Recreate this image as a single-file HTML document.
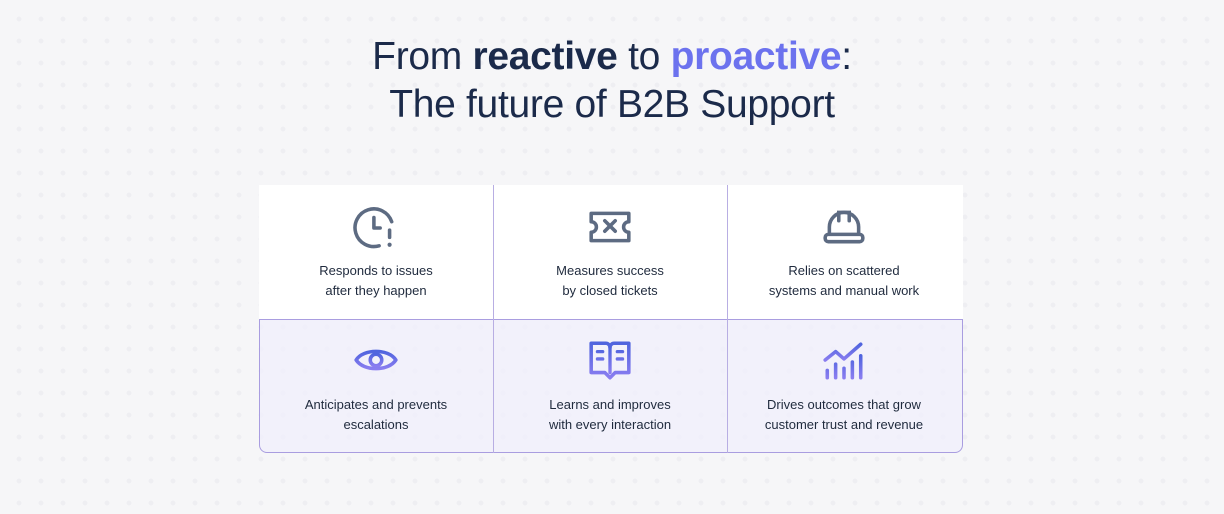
<!DOCTYPE html>
<html><head><meta charset="utf-8"><style>
*{margin:0;padding:0;box-sizing:border-box}
body{width:1224px;height:514px;overflow:hidden;background-color:#f6f6f8;
background-image:radial-gradient(circle,#eeeef2 2.2px,transparent 2.6px);background-size:22px 22px;background-position:8px 8px;
font-family:"Liberation Sans",sans-serif;position:relative;color:#1c2b49}
.t{position:absolute;left:0;width:1224px;text-align:center;font-size:39px;letter-spacing:-0.3px;color:#1b2a4a}
.t b{font-weight:700}
.p{color:#6c72ee}
.grid{position:absolute;left:259px;top:185px;width:704px;height:268px}
.top{position:absolute;left:0;top:0;width:704px;height:134px;background:#fff}
.bot{position:absolute;left:0;top:134px;width:704px;height:134px;background:rgba(240,239,252,0.75);border:1px solid #a99de0;border-radius:0 0 8px 8px}
.v{position:absolute;top:0;width:1px;height:268px;background:#b8aee3}
.cell{position:absolute;width:234px;text-align:center;font-size:13px;line-height:19.5px;color:#1f2a3d}
.ic{position:absolute;left:50%;transform:translateX(-50%)}
</style></head><body>
<div class="t" style="top:35px">From <b>reactive</b> to <b class="p">proactive</b>:</div>
<div class="t" style="top:83px">The future of B2B Support</div>
<div class="grid">
<div class="top"></div><div class="bot"></div>
<div class="v" style="left:234px"></div><div class="v" style="left:468px"></div>
<div class="cell" style="left:0;top:0;height:134px">
<svg class="ic" style="top:20px" width="46" height="46" viewBox="0 0 44 44"><path d="M37 16A18 18 0 1 0 25 39" fill="none" stroke="#5d6b82" stroke-width="3.4" stroke-linecap="round"/><path d="M20 12v10h6" fill="none" stroke="#5d6b82" stroke-width="3.4" stroke-linecap="round" stroke-linejoin="round"/><path d="M35 24v7" stroke="#5d6b82" stroke-width="3.4" stroke-linecap="round"/><circle cx="35" cy="38" r="2" fill="#5d6b82"/></svg>
<div style="position:absolute;top:76px;width:234px">Responds to issues<br>after they happen</div></div>
<div class="cell" style="left:234px;top:0;height:134px">
<svg class="ic" style="top:24px" width="46" height="36" viewBox="0 0 44 34"><path d="M4 4h36v8a5 5 0 0 0 0 10v8H4v-8a5 5 0 0 0 0-10z" fill="none" stroke="#5d6b82" stroke-width="3.4" stroke-linejoin="round"/><path d="M17 11l10 10M27 11l-10 10" stroke="#5d6b82" stroke-width="3.4" stroke-linecap="round"/></svg>
<div style="position:absolute;top:76px;width:234px">Measures success<br>by closed tickets</div></div>
<div class="cell" style="left:468px;top:0;height:134px">
<svg class="ic" style="top:21px" width="46" height="40" viewBox="0 0 44 38"><path d="M8 26v-6a14 14 0 0 1 28 0v6" fill="none" stroke="#5d6b82" stroke-width="3.4"/><path d="M17 14V6h10v8" fill="none" stroke="#5d6b82" stroke-width="3.4" stroke-linecap="round"/><rect x="4" y="27" width="36" height="7" rx="3" fill="none" stroke="#5d6b82" stroke-width="3.4"/></svg>
<div style="position:absolute;top:76px;width:234px">Relies on scattered<br>systems and manual work</div></div>
<svg width="0" height="0" style="position:absolute"><defs><linearGradient id="g" x1="0" y1="0" x2="0" y2="1"><stop offset="0" stop-color="#4f64de"/><stop offset="1" stop-color="#8a7df0"/></linearGradient></defs></svg>
<div class="cell" style="left:0;top:134px;height:134px">
<svg class="ic" style="top:23px" width="46" height="36" viewBox="0 0 44 34"><path d="M3 17C10 6 34 6 41 17C34 28 10 28 3 17z" fill="none" stroke="url(#g)" stroke-width="3.4" stroke-linejoin="round"/><circle cx="22" cy="17" r="5.5" fill="none" stroke="url(#g)" stroke-width="3.4"/></svg>
<div style="position:absolute;top:76px;width:234px">Anticipates and prevents<br>escalations</div></div>
<div class="cell" style="left:234px;top:134px;height:134px">
<svg class="ic" style="top:20px" width="46" height="42" viewBox="0 0 44 40"><path d="M4 4h14a4 4 0 0 1 4 4 4 4 0 0 1 4-4h14v28H27l-5 5-5-5H4z" fill="none" stroke="url(#g)" stroke-width="3.4" stroke-linejoin="round"/><path d="M22 8v24M10 12h5M10 19h5M29 12h5M29 19h5" stroke="url(#g)" stroke-width="3.2" stroke-linecap="round"/></svg>
<div style="position:absolute;top:76px;width:234px">Learns and improves<br>with every interaction</div></div>
<div class="cell" style="left:468px;top:134px;height:134px">
<svg class="ic" style="top:20px" width="46" height="44" viewBox="0 0 44 42"><path d="M4 20l10-8 8 7 16-14" fill="none" stroke="url(#g)" stroke-width="3.4" stroke-linecap="round" stroke-linejoin="round"/><path d="M6 30v7M14 24v13M22 28v9M30 22v15M38 16v21" stroke="url(#g)" stroke-width="3.4" stroke-linecap="round"/></svg>
<div style="position:absolute;top:76px;width:234px">Drives outcomes that grow<br>customer trust and revenue</div></div>
</div>
</body></html>
